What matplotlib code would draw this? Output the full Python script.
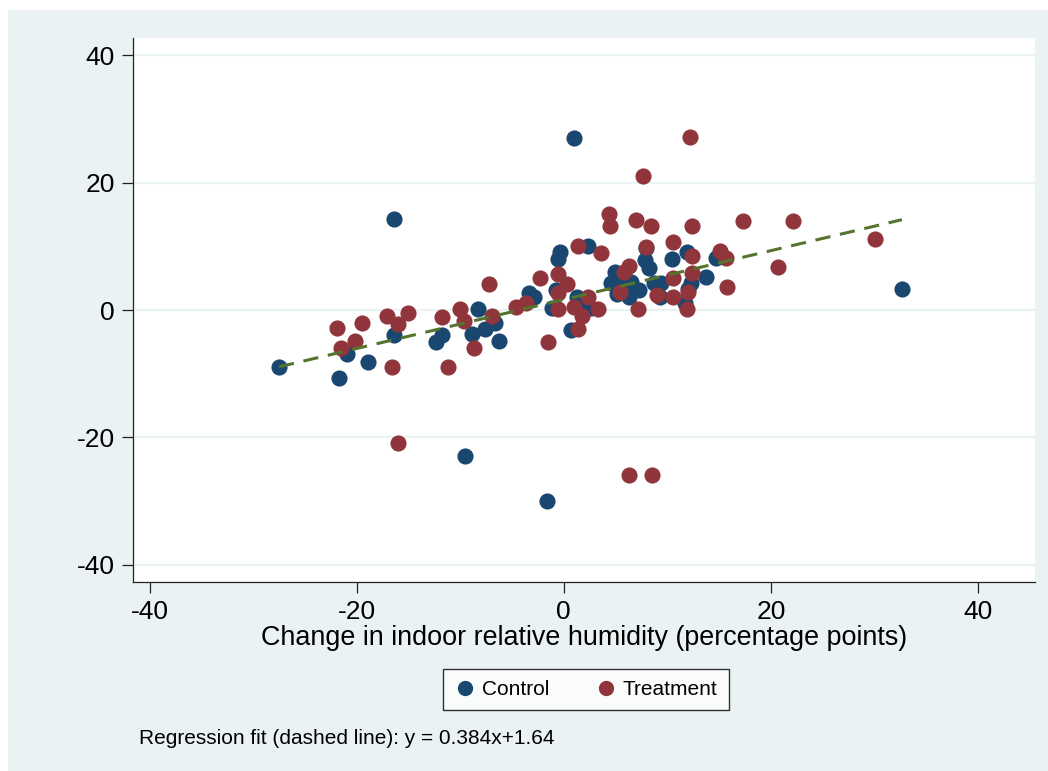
import numpy as np
import matplotlib.pyplot as plt
from matplotlib.patches import Rectangle
from matplotlib.lines import Line2D

plt.rcParams['font.family'] = ['Liberation Sans', 'DejaVu Sans']

# control group: change in RH vs outcome
control_x = [-27.5, -21.7, -20.95, -18.9, -16.4, -16.4, -12.35, -11.8, -9.5, -8.9,
             -8.3, -7.6, -6.6, -6.25, -3.35, -2.9, -1.6, 1.0, -0.35, -0.55,
             -0.75, -1.1, 0.7, 1.3, 1.5, 2.35, 2.65, 4.9, 4.6, 5.35,
             5.1, 6.3, 6.5, 7.3, 7.95, 7.8, 8.25, 8.75, 9.4, 9.25,
             10.4, 11.85, 12.3, 11.95, 11.75, 13.7, 14.65, 32.65]
control_y = [-9.0, -10.7, -6.9, -8.2, 14.3, -3.9, -5.0, -3.9, -22.9, -3.8,
             0.15, -3.0, -2.0, -4.9, 2.7, 2.0, -30.0, 27.0, 9.1, 8.0,
             3.1, 0.3, -3.1, 2.0, 0.5, 10.0, 0.3, 6.0, 4.2, 4.2,
             2.5, 2.0, 4.4, 3.1, 9.7, 7.8, 6.6, 4.2, 4.2, 2.0,
             8.0, 9.1, 4.2, 3.3, 1.1, 5.2, 8.2, 3.3]

treat_x = [-21.9, -21.5, -20.2, -19.5, -17.1, -16.6, -16.0, -16.0, -15.0, -11.8,
           -11.2, -10.0, -9.6, -8.7, -7.2, -6.9, -4.6, -3.65, -2.3, -1.5,
           -0.55, 0.3, -0.55, -0.55, 1.0, 1.4, 1.8, 2.35, 3.3, 1.4,
           3.6, 4.4, 4.5, 5.45, 5.85, 6.3, 6.3, 7.0, 7.2, 7.6,
           7.95, 8.45, 8.55, 9.0, 10.5, 10.5, 10.5, 11.85, 12.15, 12.35,
           12.4, 12.4, 11.95, 15.05, 15.7, 15.8, 17.35, 20.65, 22.1, 30.05]
treat_y = [-2.8, -6.0, -4.9, -2.0, -0.9, -8.9, -2.2, -20.9, -0.5, -1.1,
           -8.9, 0.2, -1.7, -6.0, 4.1, -0.9, 0.5, 1.1, 5.0, -5.0,
           5.6, 4.1, 2.7, 0.15, 0.5, -3.0, -0.9, 2.0, 0.15, 10.0,
           8.9, 15.0, 13.2, 2.8, 6.0, 6.9, -25.9, 14.1, 0.15, 21.0,
           9.9, 13.2, -25.9, 2.4, 2.0, 10.7, 5.0, 0.15, 27.1, 8.5,
           5.8, 13.2, 2.8, 9.3, 8.2, 3.6, 14.0, 6.7, 14.0, 11.1]

slope, intercept = 0.384, 1.64
ticks = [-40, -20, 0, 20, 40]

BG = '#eaf2f3'
BLUE = '#1a476f'
RED = '#90353b'
GREEN = '#55752f'

fig = plt.figure(figsize=(10.48, 7.71), dpi=100, facecolor='white')
fig.patches.append(Rectangle((8/1048, 0), 1, 1 - 10/771, transform=fig.transFigure,
                             facecolor=BG, edgecolor='none', zorder=-10))

ax = fig.add_axes([133/1048, 1 - 582/771, (1035 - 133)/1048, (582 - 38)/771])
ax.set_facecolor('white')

ax.scatter(control_x, control_y, s=135, color=BLUE, linewidths=0, zorder=3)
ax.scatter(treat_x, treat_y, s=135, color=RED, linewidths=0, zorder=4)

all_x = np.array(control_x + treat_x)
xs = np.array([all_x.min(), all_x.max()])
ax.plot(xs, slope * xs + intercept, color=GREEN, lw=2.2, ls=(0, (5, 3.2)), zorder=5)

ax.set_xlim(-41.6, 45.5)
ax.set_ylim(-42.7, 42.7)
ax.set_xticks(ticks)
ax.set_yticks(ticks)
ax.set_yticklabels([str(t) for t in ticks])
ax.set_xticklabels([str(t) for t in ticks])
for y in ticks:
    ax.axhline(y, color=BG, lw=1.6, zorder=1)

for side in ['top', 'right']:
    ax.spines[side].set_visible(False)
for side in ['left', 'bottom']:
    ax.spines[side].set_linewidth(0.9)
    ax.spines[side].set_color('#222222')
ax.tick_params(axis='both', labelsize=19, length=8, width=0.9, color='#222222', pad=5)
ax.tick_params(axis='x', pad=5)

ax.set_xlabel('Change in indoor relative humidity (percentage points)', fontsize=19.4, labelpad=1)

handles = [Line2D([], [], marker='o', ls='none', color=BLUE, markersize=11, markeredgewidth=0),
           Line2D([], [], marker='o', ls='none', color=RED, markersize=11, markeredgewidth=0)]
leg = fig.legend(handles, ['Control', 'Treatment'], loc='center', ncol=2,
                 bbox_to_anchor=(586/1048, 1 - 689.5/771), fontsize=15, frameon=True,
                 fancybox=False, edgecolor='black', handletextpad=0.3, columnspacing=2.2,
                 borderpad=0.55, handlelength=1.0)
leg.get_frame().set_linewidth(1.0)

fig.text(139/1048, 1 - 738/771, 'Regression fit (dashed line): y = 0.384x+1.64',
         fontsize=15, va='center', ha='left')

fig.savefig('out.png', dpi=100, facecolor=fig.get_facecolor())
